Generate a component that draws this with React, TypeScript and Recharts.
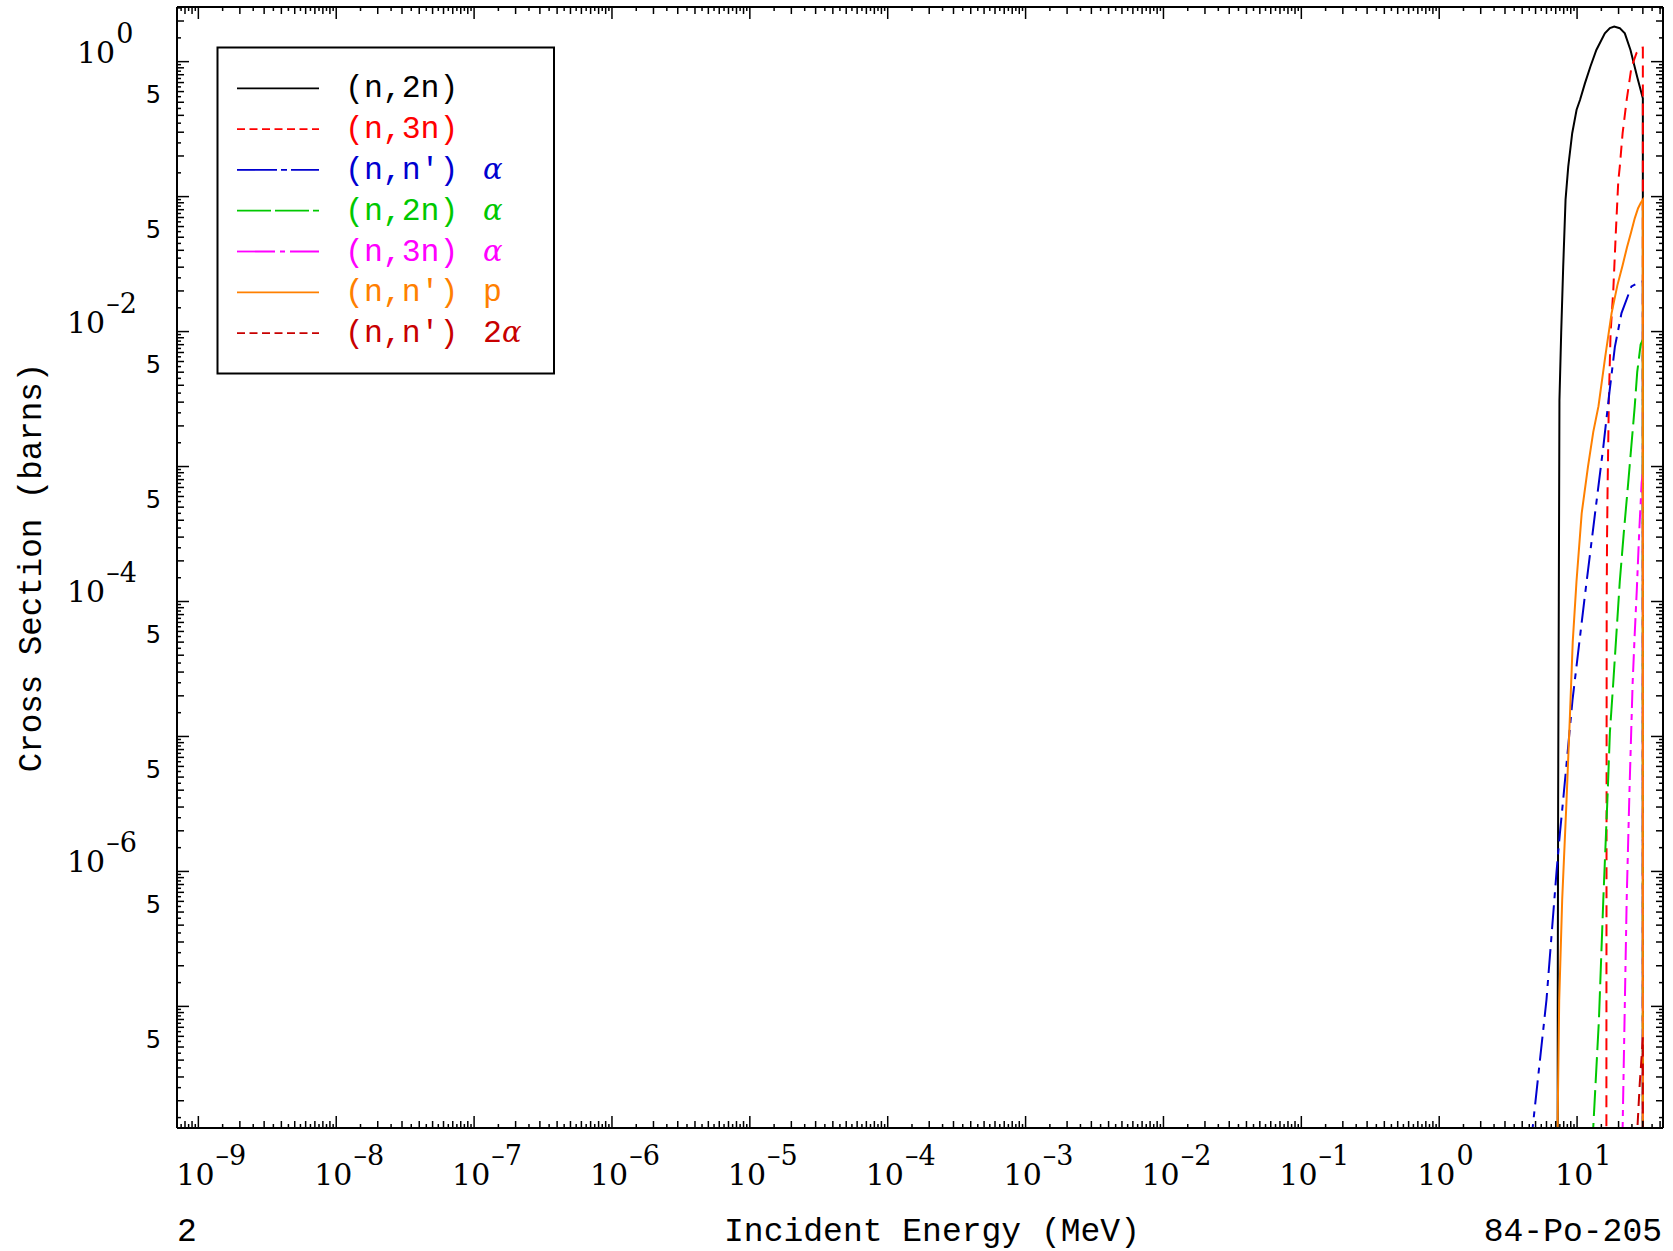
import React from "react"
import { LineChart, Line, XAxis, YAxis } from "recharts"

// axis ranges (MeV, barns)
const X_DOMAIN: [number, number] = [7e-10, 42]
const Y_DOMAIN: [number, number] = [1.256e-8, 2.54]
const X_DECADES = [-10, -9, -8, -7, -6, -5, -4, -3, -2, -1, 0, 1]
const Y_DECADES = [-8, -7, -6, -5, -4, -3, -2, -1, 0]
const Y_POWER_LABELS = [0, -2, -4, -6]
const MANTISSAS = [1, 1.5, 2, 2.5, 3, 3.5, 4, 4.5, 5, 5.5, 6, 6.5, 7, 7.5, 8, 8.5, 9, 9.5]
const LOW = 1e-10 // drop below the frame

// (n,2n)
const n2nE = [7.22, 7.24, 7.29, 7.37, 7.45, 7.67, 7.93, 8.25, 8.63, 9.22, 9.92, 10.5, 11.4, 12.5, 13.8, 15.9, 17.3, 18.6, 20.4, 22.2, 24.4, 27.3, 30, 30]
const n2nXs = [LOW, 1e-7, 3.4e-6, 1.0e-4, 3.1e-3, 9.8e-3, 0.03, 0.095, 0.167, 0.295, 0.44, 0.52, 0.69, 0.92, 1.22, 1.62, 1.77, 1.82, 1.77, 1.62, 1.22, 0.77, 0.535, LOW]

// (n,3n)
const n3nE = [16.3, 16.33, 16.4, 16.5, 16.65, 17.0, 17.5, 18.3, 19.1, 19.9, 20.4, 21.4, 22.9, 24.8, 27.0, 28.5, 30, 30]
const n3nXs = [LOW, 1e-7, 1.0e-4, 3.0e-4, 7e-4, 3.1e-3, 9.8e-3, 0.02, 0.054, 0.13, 0.166, 0.296, 0.52, 0.91, 1.16, 1.26, 1.27, LOW]

// (n,n')alpha
const nnaE = [4.0, 4.76, 6.0, 7.1, 7.5, 7.93, 9.27, 11.3, 13.5, 15.5, 17.2, 18.8, 21.0, 24.8, 29.0, 30, 30]
const nnaXs = [2e-9, 1.26e-8, 1.12e-7, 1.0e-6, 1.9e-6, 3.4e-6, 1.87e-5, 1.03e-4, 4.5e-4, 1.4e-3, 3.6e-3, 7.7e-3, 0.0137, 0.0216, 0.0235, 0.0235, LOW]

// (n,2n)alpha
const n2naE = [12.6, 13.1, 14.4, 15.5, 16.7, 17.3, 18.3, 19.3, 20.4, 21.8, 23.5, 26.2, 27.3, 28.9, 30, 30]
const n2naXs = [5e-9, 1.26e-8, 7.9e-8, 6.2e-7, 4e-6, 1.07e-5, 2.5e-5, 5.8e-5, 1.4e-4, 3.2e-4, 7.6e-4, 2.8e-3, 5.0e-3, 8.0e-3, 8.7e-3, LOW]

// (n,3n)alpha
const n3naE = [21.0, 21.4, 22.9, 24.0, 25.3, 26.2, 27.1, 28.2, 29.4, 30, 30]
const n3naXs = [3e-9, 1.26e-8, 6.2e-7, 4e-6, 2.5e-5, 5.8e-5, 1.2e-4, 3.2e-4, 7.6e-4, 9e-4, LOW]

// (n,n')p
const nnpE = [7.2, 7.22, 7.42, 7.8, 8.39, 8.87, 9.3, 9.9, 10.8, 12.0, 13.1, 14.3, 16.0, 17.8, 19.6, 21.4, 23.0, 24.6, 26.2, 27.7, 29.0, 30, 30]
const nnpXs = [LOW, 1.26e-8, 1.1e-7, 6.2e-7, 3.4e-6, 1.4e-5, 5e-5, 1.4e-4, 4.5e-4, 1.0e-3, 1.8e-3, 2.8e-3, 6.5e-3, 0.0137, 0.022, 0.031, 0.042, 0.054, 0.069, 0.082, 0.09, 0.0946, LOW]

// (n,n')2alpha
const nn2aE = [27.0, 27.4, 28.5, 29.5, 30, 30]
const nn2aXs = [5e-9, 1.26e-8, 2.7e-8, 4.5e-8, 5.9e-8, LOW]

const toPoints = (e: number[], xs: number[]) => e.map((v, i) => ({ e: v, xs: xs[i] }))

const series = [
  { label: "(n,2n)", suffix: "", color: "#000000", dash: undefined, legendDash: undefined, data: toPoints(n2nE, n2nXs) },
  { label: "(n,3n)", suffix: "", color: "#ff0000", dash: "12 7", legendDash: "8 4.5", data: toPoints(n3nE, n3nXs) },
  { label: "(n,n')", suffix: "α", color: "#0000d0", dash: "24 7 6 7", legendDash: "40 4 6 4", data: toPoints(nnaE, nnaXs) },
  { label: "(n,2n)", suffix: "α", color: "#00c800", dash: "26 7", legendDash: "34 4", data: toPoints(n2naE, n2naXs) },
  { label: "(n,3n)", suffix: "α", color: "#ff00ff", dash: "18 6 6 6", legendDash: "38 5 5 5", data: toPoints(n3naE, n3naXs) },
  { label: "(n,n')", suffix: "p", color: "#ff8000", dash: undefined, legendDash: undefined, data: toPoints(nnpE, nnpXs) },
  { label: "(n,n')", suffix: "2α", color: "#c80000", dash: "12 7", legendDash: "8 4.5", data: toPoints(nn2aE, nn2aXs) },
]

const inside = (v: number, d: [number, number]) => v >= d[0] * 0.999 && v <= d[1] * 1.001
const xTicks = X_DECADES.flatMap((k) => MANTISSAS.map((m) => m * Math.pow(10, k))).filter((v) => inside(v, X_DOMAIN))
const yTicks = Y_DECADES.flatMap((k) => MANTISSAS.map((m) => m * Math.pow(10, k))).filter((v) => inside(v, Y_DOMAIN))

const MONO = "'Liberation Mono', 'DejaVu Sans Mono', monospace"
const SERIF = "'DejaVu Serif', serif"

function mant(v: number) {
  const k = Math.floor(Math.log10(v) + 1e-9)
  return { k, m: Math.round((v / Math.pow(10, k)) * 2) / 2 }
}

function tickLen(m: number) {
  if (m === 1) return 12
  return Number.isInteger(m) ? 7 : 4
}

// "10" with a raised exponent
const PowerLabel = ({ x, y, k }: { x: number; y: number; k: number }) => (
  <text x={x} y={y} fontFamily={SERIF} fontSize={30} fill="#000">
    10
    <tspan dx={1} dy={-20} fontSize={27}>
      {k < 0 ? `–${-k}` : `${k}`}
    </tspan>
  </text>
)

const BottomTick = (props: any) => {
  const { x, y, payload } = props
  const { k, m } = mant(payload.value)
  return (
    <g>
      <line x1={x} y1={y} x2={x} y2={y - tickLen(m)} stroke="#000" strokeWidth={1.5} />
      {m === 1 && <PowerLabel x={x - 22} y={y + 57} k={k} />}
    </g>
  )
}

const TopTick = (props: any) => {
  const { x, y, payload } = props
  const { m } = mant(payload.value)
  return <line x1={x} y1={y} x2={x} y2={y + tickLen(m)} stroke="#000" strokeWidth={1.5} />
}

const LeftTick = (props: any) => {
  const { x, y, payload } = props
  const { k, m } = mant(payload.value)
  return (
    <g>
      <line x1={x} y1={y} x2={x + tickLen(m)} y2={y} stroke="#000" strokeWidth={1.5} />
      {m === 1 && Y_POWER_LABELS.includes(k) && <PowerLabel x={x - (k < 0 ? 110 : 100)} y={y + 1} k={k} />}
      {m === 5 && (
        <text x={x - 16} y={y + 1} textAnchor="end" fontFamily="'DejaVu Sans', 'Liberation Sans', sans-serif" fontSize={24} fill="#000">
          5
        </text>
      )}
    </g>
  )
}

const RightTick = (props: any) => {
  const { x, y, payload } = props
  const { m } = mant(payload.value)
  return <line x1={x} y1={y} x2={x - tickLen(m)} y2={y} stroke="#000" strokeWidth={1.5} />
}

const axisLine = { stroke: "#000", strokeWidth: 2 }

function ChartLegend() {
  const top = 88.3
  const step = 40.8
  return (
    <g>
      <rect x={217.5} y={47.5} width={336.5} height={326} fill="none" stroke="#000" strokeWidth={2} />
      {series.map((s, i) => {
        const y = top + i * step
        return (
          <g key={i}>
            <line x1={237} y1={y} x2={319} y2={y} stroke={s.color} strokeWidth={1.8} strokeDasharray={s.legendDash} />
            <text x={345} y={y + 9} fontFamily={MONO} fontSize={31.5} fill={s.color}>
              {s.label}
            </text>
            {s.suffix === "p" && (
              <text x={483} y={y + 9} fontFamily={MONO} fontSize={31.5} fill={s.color}>p</text>
            )}
            {s.suffix === "α" && (
              <text x={483} y={y + 9} fontFamily={SERIF} fontStyle="italic" fontSize={29} fill={s.color}>α</text>
            )}
            {s.suffix === "2α" && (
              <text x={483} y={y + 9} fill={s.color}>
                <tspan fontFamily={MONO} fontSize={31.5}>2</tspan>
                <tspan fontFamily={SERIF} fontStyle="italic" fontSize={29}>α</tspan>
              </text>
            )}
          </g>
        )
      })}
    </g>
  )
}

export default function App() {
  return (
    <div style={{ position: "absolute", left: 0, top: 0, width: 1673, height: 1251, background: "#fff" }}>
      <LineChart width={1673} height={1251} margin={{ top: 6, right: 9, bottom: 122, left: 176 }}>
        <XAxis
          xAxisId="b"
          dataKey="e"
          type="number"
          scale="log"
          domain={X_DOMAIN}
          allowDataOverflow
          ticks={xTicks}
          interval={0}
          height={1}
          tickSize={0}
          tickMargin={0}
          tickLine={false}
          axisLine={axisLine}
          tick={BottomTick}
        />
        <XAxis
          xAxisId="t"
          orientation="top"
          dataKey="e"
          type="number"
          scale="log"
          domain={X_DOMAIN}
          allowDataOverflow
          ticks={xTicks}
          interval={0}
          height={1}
          tickSize={0}
          tickMargin={0}
          tickLine={false}
          axisLine={axisLine}
          tick={TopTick}
        />
        <YAxis
          yAxisId="l"
          type="number"
          scale="log"
          domain={Y_DOMAIN}
          allowDataOverflow
          ticks={yTicks}
          interval={0}
          width={1}
          tickSize={0}
          tickMargin={0}
          tickLine={false}
          axisLine={axisLine}
          tick={LeftTick}
        />
        <YAxis
          yAxisId="r"
          orientation="right"
          type="number"
          scale="log"
          domain={Y_DOMAIN}
          allowDataOverflow
          ticks={yTicks}
          interval={0}
          width={1}
          tickSize={0}
          tickMargin={0}
          tickLine={false}
          axisLine={axisLine}
          tick={RightTick}
        />
        {series.map((s, i) => (
          <Line
            key={i}
            xAxisId="b"
            yAxisId="l"
            data={s.data}
            dataKey="xs"
            type="linear"
            stroke={s.color}
            strokeWidth={2}
            strokeDasharray={s.dash}
            dot={false}
            activeDot={false}
            isAnimationActive={false}
          />
        ))}
      </LineChart>
      <svg width={1673} height={1251} style={{ position: "absolute", left: 0, top: 0, pointerEvents: "none" }}>
        <ChartLegend />
        <text x={41} y={567.5} transform="rotate(-90 41 567.5)" textAnchor="middle" fontFamily={MONO} fontSize={32.5} fill="#000">
          Cross Section (barns)
        </text>
        <text x={177} y={1241} fontFamily={MONO} fontSize={33} fill="#000">2</text>
        <text x={932} y={1241} textAnchor="middle" fontFamily={MONO} fontSize={33} fill="#000">
          Incident Energy (MeV)
        </text>
        <text x={1662} y={1241} textAnchor="end" fontFamily={MONO} fontSize={33} fill="#000">
          84-Po-205
        </text>
      </svg>
    </div>
  )
}
